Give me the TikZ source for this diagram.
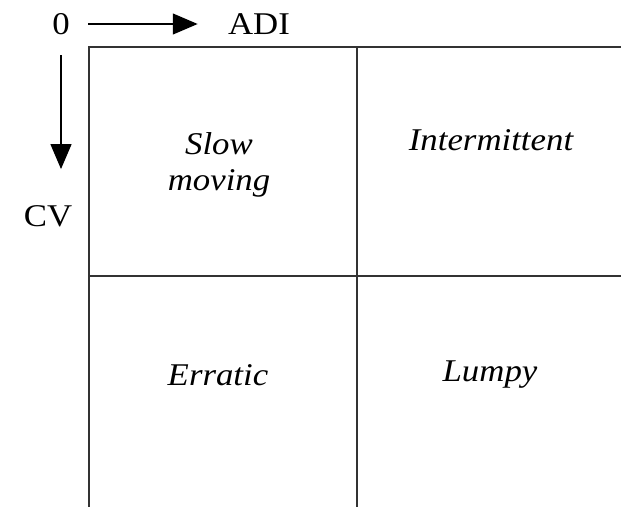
\documentclass[tikz,border=0pt]{standalone}
\usepackage{fontspec}
\setmainfont{Liberation Serif}
\usetikzlibrary{arrows.meta}

\begin{document}
\begin{tikzpicture}[x=0.03cm, y=-0.03cm,
	lbl/.style={font=\fontsize{27}{29}\selectfont, xscale=1.1, transform shape},
	cell/.style={font=\fontsize{27}{31}\selectfont\itshape, align=center, xscale=1.1, transform shape},
	axis/.style={line width=2pt, -{Triangle[length=0.75cm, width=0.62cm]}},
	frame/.style={line width=2pt, draw=black!80}]
			\useasboundingbox (0,0) rectangle (621,507);
			
			\node[lbl] (zero) at (61,24) {0};
			\node[lbl] (adi) at (259,24) {ADI};
			\node[lbl] (cv) at (48,216) {CV};
			
			\draw[axis, shorten <=12pt, shorten >=22pt] (zero) -- (adi);
			\draw[axis, shorten <=14pt, shorten >=40pt] (zero) -- (zero |- cv);
			
			\draw[frame] (621,47) -- (89,47) -- (89,507);
			\draw[frame] (357,47) -- (357,507);
			\draw[frame] (89,276) -- (621,276);
			
			\node[cell] (slow) at (219,165) {Slow\\moving};
			\node[cell] (inter) at (491,140) {Intermittent};
			\node[cell] (erratic) at (218,375) {Erratic};
			\node[cell] (lumpy) at (490,375) {Lumpy};
			
			\end{tikzpicture}
\end{document}
